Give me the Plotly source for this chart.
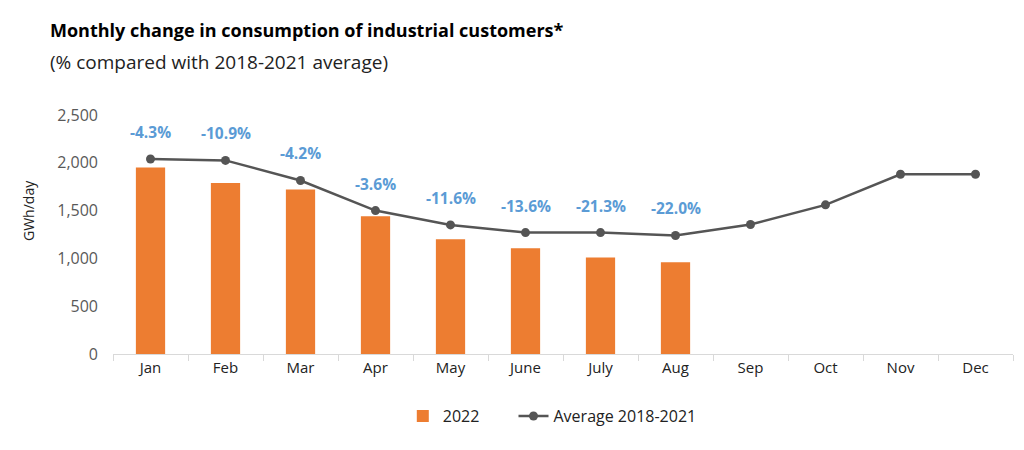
import plotly.graph_objects as go

months = ["Jan", "Feb", "Mar", "Apr", "May", "June", "July", "Aug", "Sep", "Oct", "Nov", "Dec"]
cons_2022 = [1950, 1790, 1720, 1440, 1200, 1105, 1010, 960]
avg_2018_2021 = [2040, 2025, 1815, 1500, 1350, 1270, 1270, 1240, 1355, 1560, 1880, 1880]
pct_labels = ["-4.3%", "-10.9%", "-4.2%", "-3.6%", "-11.6%", "-13.6%", "-21.3%", "-22.0%"]
y_ticks = [0, 500, 1000, 1500, 2000, 2500]
y_ticktext = ["0", "500", "1,000", "1,500", "2,000", "2,500"]

FONT = "Open Sans, sans-serif"

fig = go.Figure()

fig.add_trace(go.Bar(x=months[:len(cons_2022)], y=cons_2022,
                     name="2022", legend="legend",
                     marker=dict(color="#ED7D31", line=dict(width=0)),
                     width=0.39))

fig.add_trace(go.Scatter(x=months, y=avg_2018_2021,
                         mode="lines+markers",
                         name="Average 2018-2021", legend="legend2",
                         line=dict(color="#555555", width=2.5),
                         marker=dict(color="#555555", size=9)))

# percent labels above the average line
for m, v, lab in zip(months, avg_2018_2021, pct_labels):
    fig.add_annotation(x=m, y=v, text="<b>" + lab + "</b>", showarrow=False,
                       yshift=27, font=dict(family=FONT, size=15.5, color="#5B9BD5"))

# title + subtitle (page has an 8px body margin, positions compensate for it)
fig.add_annotation(text="<b>Monthly change in consumption of industrial customers*</b>",
                   xref="paper", yref="paper", x=-0.072, y=1.356, xanchor="left", yanchor="middle",
                   showarrow=False, font=dict(family=FONT, size=18, color="black"))
fig.add_annotation(text="(% compared with 2018-2021 average)",
                   xref="paper", yref="paper", x=-0.072, y=1.222, xanchor="left", yanchor="middle",
                   showarrow=False, font=dict(family=FONT, size=19, color="#222222"))

# y axis title sits a bit above the middle in the original
fig.add_annotation(text="GWh/day", textangle=-90,
                   xref="paper", yref="paper", x=-0.094, y=0.6, xanchor="center", yanchor="middle",
                   showarrow=False, font=dict(family=FONT, size=14, color="#222222"))

legend_style = dict(orientation="h", xanchor="left", y=-0.26, yanchor="middle",
                    font=dict(size=16, color="#222222"))

fig.update_layout(
    width=1024, height=450,
    margin=dict(l=105, r=19, t=107, b=104),
    plot_bgcolor="white", paper_bgcolor="white",
    font=dict(family=FONT, size=14, color="#222222"),
    showlegend=True,
    legend=dict(x=0.322, **legend_style),
    legend2=dict(x=0.445, **legend_style),
)

fig.update_xaxes(range=[-0.5, 11.5], showgrid=False, zeroline=False,
                 showline=True, linecolor="#D9D9D9", linewidth=1,
                 ticks="outside", tickson="boundaries", ticklen=6, tickcolor="#D9D9D9",
                 tickfont=dict(size=15, color="#222222"))
fig.update_yaxes(range=[0, 2500], showgrid=False, zeroline=False, showline=False,
                 tickmode="array", tickvals=y_ticks, ticktext=y_ticktext,
                 ticks="", ticklabelstandoff=14,
                 tickfont=dict(size=16, color="#595959"))

fig.write_html("out.html")
